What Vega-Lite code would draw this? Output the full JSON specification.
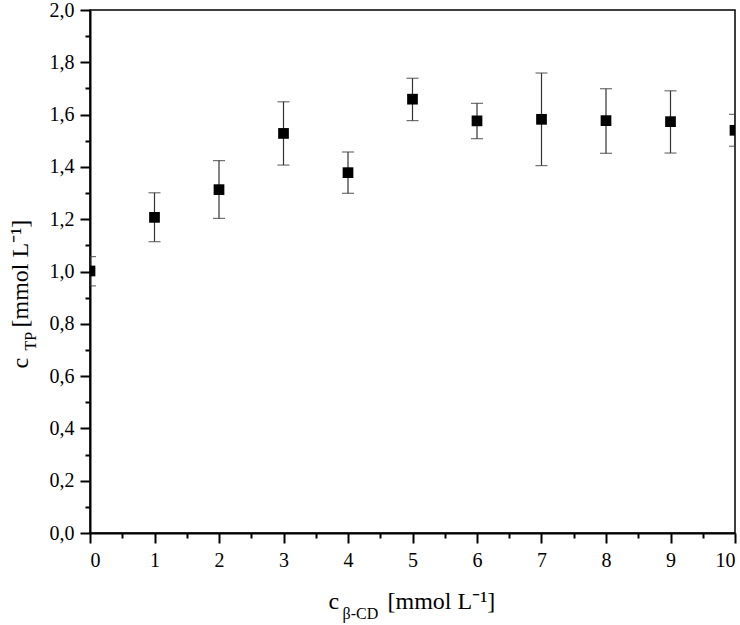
{
  "$schema": "https://vega.github.io/schema/vega-lite/v6.json",
  "autosize": {"type": "none"},
  "padding": {"left": 90, "top": 10, "right": 5, "bottom": 92},
  "width": 645,
  "height": 523,
  "background": "white",
  "config": {
    "view": {"stroke": "#000", "strokeWidth": 1.5},
    "axis": {
      "grid": false,
      "labelFont": "'Liberation Serif', 'Times New Roman', Times, serif",
      "titleFont": "'Liberation Serif', 'Times New Roman', Times, serif",
      "labelColor": "#000",
      "titleColor": "#000",
      "tickColor": "#000",
      "domainColor": "#000",
      "tickWidth": 2,
      "domainWidth": 2,
      "titleFontWeight": "normal",
      "labelFontSize": 20,
      "titleFontSize": 24
    }
  },
  "data": {
    "values": [
      {"x": 0, "y": 1.002, "lo": 0.945, "hi": 1.057},
      {"x": 1, "y": 1.207, "lo": 1.114, "hi": 1.301},
      {"x": 2, "y": 1.313, "lo": 1.203, "hi": 1.424},
      {"x": 3, "y": 1.528, "lo": 1.407, "hi": 1.649},
      {"x": 4, "y": 1.378, "lo": 1.299, "hi": 1.457},
      {"x": 5, "y": 1.659, "lo": 1.577, "hi": 1.739},
      {"x": 6, "y": 1.576, "lo": 1.508, "hi": 1.643},
      {"x": 7, "y": 1.582, "lo": 1.405, "hi": 1.759},
      {"x": 8, "y": 1.577, "lo": 1.452, "hi": 1.699},
      {"x": 9, "y": 1.573, "lo": 1.453, "hi": 1.691},
      {"x": 10, "y": 1.540, "lo": 1.479, "hi": 1.601}
    ]
  },
  "resolve": {"axis": {"x": "independent", "y": "independent"}},
  "layer": [
    {
      "mark": {"type": "rule", "color": "#333", "strokeWidth": 1.2, "clip": true},
      "encoding": {
        "x": {"field": "x", "type": "quantitative", "scale": {"domain": [0, 10], "nice": false},
          "axis": {"orient": "bottom", "values": [0.5, 1.5, 2.5, 3.5, 4.5, 5.5, 6.5, 7.5, 8.5, 9.5], "labels": false, "domain": false, "tickSize": 5, "title": null}},
        "y": {"field": "lo", "type": "quantitative", "scale": {"domain": [0, 2], "nice": false},
          "axis": {"orient": "left", "values": [0.1, 0.3, 0.5, 0.7, 0.9, 1.1, 1.3, 1.5, 1.7, 1.9], "labels": false, "domain": false, "tickSize": 5, "title": null}},
        "y2": {"field": "hi"}
      }
    },
    {
      "mark": {"type": "tick", "orient": "horizontal", "color": "#333", "size": 12, "thickness": 1.2, "clip": true},
      "encoding": {
        "x": {"field": "x", "type": "quantitative",
          "axis": {"orient": "bottom", "labels": false, "ticks": false, "domain": false, "title": "c", "titleX": 238, "titleY": 75, "titleAlign": "left", "titleBaseline": "alphabetic", "titleAngle": 0, "titleFontSize": 24}},
        "y": {"field": "lo", "type": "quantitative",
          "axis": {"orient": "left", "labels": false, "ticks": false, "domain": false, "title": "c", "titleX": -63, "titleY": 358, "titleAlign": "left", "titleBaseline": "alphabetic", "titleAngle": 270, "titleFontSize": 24}}
      }
    },
    {
      "mark": {"type": "tick", "orient": "horizontal", "color": "#333", "size": 12, "thickness": 1.2, "clip": true},
      "encoding": {
        "x": {"field": "x", "type": "quantitative",
          "axis": {"orient": "bottom", "labels": false, "ticks": false, "domain": false, "title": "β-CD", "titleX": 252, "titleY": 85, "titleAlign": "left", "titleBaseline": "alphabetic", "titleAngle": 0, "titleFontSize": 16}},
        "y": {"field": "hi", "type": "quantitative",
          "axis": {"orient": "left", "labels": false, "ticks": false, "domain": false, "title": "TP", "titleX": -55, "titleY": 340, "titleAlign": "left", "titleBaseline": "alphabetic", "titleAngle": 270, "titleFontSize": 16}}
      }
    },
    {
      "mark": {"type": "point", "shape": "square", "filled": true, "color": "#000", "size": 115, "opacity": 1, "clip": true},
      "encoding": {
        "x": {"field": "x", "type": "quantitative",
          "axis": {"orient": "bottom", "values": [0, 1, 2, 3, 4, 5, 6, 7, 8, 9, 10], "format": "d", "tickSize": 10, "labelPadding": 7,
            "title": "[mmol L⁻¹]", "titleX": 297, "titleY": 75, "titleAlign": "left", "titleBaseline": "alphabetic", "titleAngle": 0, "titleFontSize": 24}},
        "y": {"field": "y", "type": "quantitative",
          "axis": {"orient": "left", "values": [0, 0.2, 0.4, 0.6, 0.8, 1.0, 1.2, 1.4, 1.6, 1.8, 2.0], "tickSize": 10, "labelPadding": 6,
            "labelExpr": "replace(format(datum.value, '.1f'), '.', ',')",
            "title": "[mmol L⁻¹]", "titleX": -63, "titleY": 317, "titleAlign": "left", "titleBaseline": "alphabetic", "titleAngle": 270, "titleFontSize": 24}}
      }
    }
  ]
}
